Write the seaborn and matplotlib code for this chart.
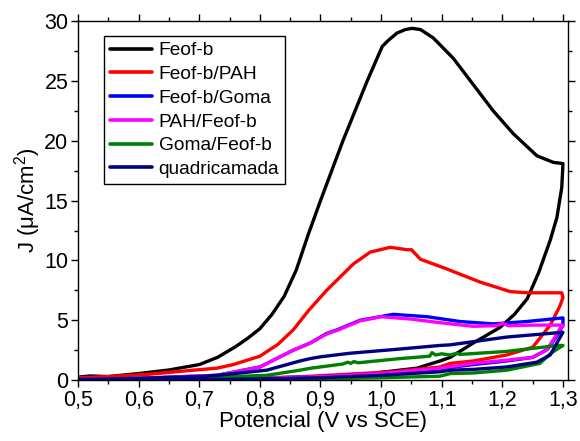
import numpy as np
import pandas as pd
import seaborn as sns
import matplotlib
matplotlib.use("Agg")
import matplotlib.pyplot as plt
from matplotlib.ticker import MultipleLocator

# ---- data ----
series_names = ["Feof-b", "Feof-b/PAH", "Feof-b/Goma", "PAH/Feof-b", "Goma/Feof-b", "quadricamada"]
series_colors = ["#000000", "#ff0000", "#0000ff", "#ff00ff", "#008000", "#000080"]

feofb_x = [0.50, 0.52, 0.55, 0.60, 0.65, 0.70, 0.73, 0.76, 0.78, 0.80, 0.82, 0.84, 0.86, 0.88, 0.90,
           0.937, 0.977, 1.002, 1.012, 1.026, 1.040, 1.051, 1.065, 1.086, 1.119, 1.152, 1.185, 1.218,
           1.257, 1.284, 1.300,
           1.298, 1.290, 1.279, 1.260, 1.241, 1.220, 1.196, 1.152, 1.114, 1.097, 1.059, 0.965, 0.90,
           0.80, 0.70, 0.60, 0.50]
feofb_y = [0.25, 0.35, 0.30, 0.55, 0.85, 1.30, 1.90, 2.80, 3.50, 4.30, 5.50, 7.00, 9.20, 12.2, 15.0,
           20.0, 25.0, 27.9, 28.4, 29.0, 29.3, 29.4, 29.3, 28.6, 26.9, 24.7, 22.5, 20.6,
           18.75, 18.2, 18.1,
           16.1, 13.6, 11.7, 9.0, 6.8, 5.5, 4.4, 3.1, 1.9, 1.6, 1.0, 0.45, 0.30,
           0.15, 0.10, 0.10, 0.15]

pah_x = [0.50, 0.55, 0.619, 0.69, 0.729, 0.756, 0.80, 0.83, 0.855, 0.88, 0.91, 0.954, 0.982, 1.015,
         1.043, 1.050, 1.065, 1.108, 1.163, 1.213, 1.241, 1.298,
         1.300, 1.295, 1.279, 1.250, 1.207, 1.152, 1.114, 1.097, 1.020, 0.855, 0.70, 0.50]
pah_y = [0.20, 0.30, 0.50, 0.83, 1.00, 1.30, 2.00, 3.00, 4.20, 5.80, 7.50, 9.70, 10.7, 11.1,
         10.9, 10.9, 10.1, 9.3, 8.2, 7.4, 7.3, 7.3,
         6.9, 6.2, 4.6, 2.75, 2.1, 1.6, 1.4, 1.1, 0.70, 0.25, 0.12, 0.10]

goma_x = [0.50, 0.60, 0.70, 0.729, 0.80, 0.855, 0.883, 0.91, 0.927, 0.965, 1.02, 1.076, 1.13, 1.185,
          1.24, 1.30, 1.300, 1.290, 1.275, 1.250, 1.207, 1.152, 1.097, 1.00, 0.90, 0.80, 0.70, 0.50]
goma_y = [0.05, 0.15, 0.35, 0.40, 1.10, 2.50, 3.10, 3.90, 4.20, 5.00, 5.50, 5.30, 4.90, 4.70,
          4.90, 5.20, 4.60, 3.70, 2.60, 1.90, 1.60, 1.30, 0.95, 0.55, 0.30, 0.15, 0.08, 0.05]

pahf_x = [0.50, 0.60, 0.70, 0.729, 0.80, 0.855, 0.883, 0.91, 0.927, 0.965, 1.00, 1.05, 1.097, 1.152,
          1.19, 1.20, 1.21, 1.25, 1.30, 1.300, 1.295, 1.287, 1.273, 1.250, 1.207, 1.152, 1.097, 1.00,
          0.90, 0.80, 0.70, 0.50]
pahf_y = [0.05, 0.15, 0.35, 0.40, 1.10, 2.50, 3.10, 3.85, 4.15, 4.95, 5.30, 5.10, 4.80, 4.50,
          4.55, 4.75, 4.55, 4.60, 4.60, 4.50, 4.30, 3.60, 2.50, 1.90, 1.67, 1.40, 1.00, 0.55,
          0.30, 0.15, 0.08, 0.05]

gomaf_x = [0.50, 0.60, 0.70, 0.811, 0.866, 0.883, 0.937, 0.945, 0.950, 0.955, 0.962, 1.031, 1.080,
           1.084, 1.090, 1.100, 1.114, 1.125, 1.130, 1.207, 1.292, 1.300,
           1.280, 1.262, 1.207, 1.152, 1.114, 1.097, 1.00, 0.90, 0.70, 0.50]
gomaf_y = [0.02, 0.08, 0.20, 0.40, 0.83, 0.99, 1.35, 1.50, 1.40, 1.55, 1.45, 1.80, 2.00,
           2.30, 2.10, 2.20, 2.10, 2.25, 2.15, 2.40, 2.90, 2.90,
           2.25, 1.40, 0.83, 0.60, 0.55, 0.33, 0.20, 0.10, 0.05, 0.02]

quad_x = [0.50, 0.60, 0.70, 0.729, 0.811, 0.866, 0.883, 0.90, 0.949, 1.031, 1.097, 1.114, 1.207, 1.30,
          1.290, 1.279, 1.257, 1.207, 1.152, 1.114, 1.097, 1.00, 0.90, 0.80, 0.70, 0.50]
quad_y = [0.05, 0.15, 0.30, 0.40, 0.83, 1.60, 1.80, 1.95, 2.25, 2.60, 2.90, 2.95, 3.60, 4.00,
          3.10, 2.10, 1.50, 1.10, 0.90, 0.83, 0.70, 0.40, 0.20, 0.10, 0.05, 0.03]

all_x = [feofb_x, pah_x, goma_x, pahf_x, gomaf_x, quad_x]
all_y = [feofb_y, pah_y, goma_y, pahf_y, gomaf_y, quad_y]

x_ticks = [0.5, 0.6, 0.7, 0.8, 0.9, 1.0, 1.1, 1.2, 1.3]
x_tick_labels = ["0,5", "0,6", "0,7", "0,8", "0,9", "1,0", "1,1", "1,2", "1,3"]
y_ticks = [0, 5, 10, 15, 20, 25, 30]
y_tick_labels = ["0", "5", "10", "15", "20", "25", "30"]

frames = []
for name, xs, ys in zip(series_names, all_x, all_y):
    frames.append(pd.DataFrame({"series": name, "E": xs, "J": ys, "order": np.arange(len(xs))}))
df = pd.concat(frames, ignore_index=True)

# ---- plotting ----
sns.set_style("ticks")
plt.rcParams["font.family"] = ["Liberation Sans", "DejaVu Sans"]
plt.rcParams["mathtext.fontset"] = "custom"
plt.rcParams["mathtext.rm"] = "Liberation Sans"
plt.rcParams["text.color"] = "black"
plt.rcParams["axes.labelcolor"] = "black"
plt.rcParams["xtick.color"] = "black"
plt.rcParams["ytick.color"] = "black"

fig = plt.figure(figsize=(5.8, 4.41), dpi=100)
ax = fig.add_axes([0.1345, 0.138, 0.8445, 0.814])

sns.lineplot(data=df, x="E", y="J", hue="series", hue_order=series_names,
             palette=dict(zip(series_names, series_colors)), sort=False,
             estimator=None, units="series", linewidth=2.4, ax=ax)

ax.set_xlim(0.5, 1.308)
ax.set_ylim(0, 30)
ax.set_xticks(x_ticks)
ax.set_xticklabels(x_tick_labels)
ax.set_yticks(y_ticks)
ax.set_yticklabels(y_tick_labels)
ax.xaxis.set_minor_locator(MultipleLocator(0.05))
ax.yaxis.set_minor_locator(MultipleLocator(2.5))
ax.tick_params(which="both", direction="out", top=True, right=True, labeltop=False, labelright=False,
               colors="black", labelcolor="black", width=1)
ax.tick_params(which="major", length=5, labelsize=15.5, pad=2)
ax.tick_params(which="minor", length=3)
for s in ax.spines.values():
    s.set_visible(True)
    s.set_linewidth(1.0)
    s.set_color("black")

ax.set_xlabel("Potencial (V vs SCE)", fontsize=16, labelpad=0, color="black")
ax.set_ylabel("J (μA/cm$^{\\mathregular{2}}$)", fontsize=16, labelpad=1, color="black")

leg = ax.legend(loc="upper left", bbox_to_anchor=(0.053, 0.958), fontsize=13.8, frameon=True,
                fancybox=False, edgecolor="black", framealpha=1, handlelength=2.2,
                handletextpad=0.35, labelspacing=0.33, borderpad=0.3, borderaxespad=0)
leg.get_frame().set_linewidth(1.0)
for t in leg.get_texts():
    t.set_color("black")
for h in leg.get_lines():
    h.set_linewidth(2.6)

fig.savefig("out.png", dpi=100)
